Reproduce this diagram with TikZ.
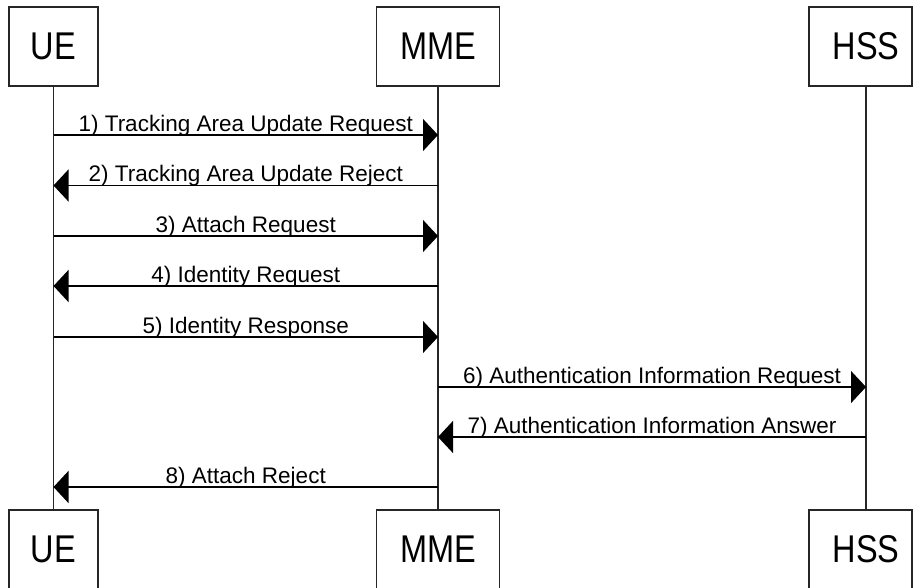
\documentclass[tikz,border=0pt]{standalone}
\usepackage{fontspec}
\setmainfont{Liberation Sans}
\usetikzlibrary{arrows.meta}
\begin{document}
\begin{tikzpicture}[x=1pt,y=-1pt,
  actor/.style={draw=black!85, line width=1.3pt, minimum height=79pt, inner sep=0pt,
    font=\fontsize{32.5}{36}\selectfont},
  title/.style={inner sep=0pt, font=\fontsize{32.5}{36}\selectfont},
  msg/.style={line width=1.2pt, -{Triangle[length=15pt,width=32pt]}},
  lbl/.style={midway, anchor=base, yshift=4pt, inner sep=0pt,
    font=\fontsize{22.5}{26}\selectfont},
  life/.style={line width=1.3pt, draw=black!85}]
\useasboundingbox (0,0) rectangle (916,587);
\clip (0,0) rectangle (916,587);
\fill[white] (0,0) rectangle (916,587);
% actors (top)
\node[actor, minimum width=89pt]  (ue)  at (53.5,46.5) {\scalebox{1}[1.19]{UE}};
\node[actor, minimum width=123pt] (mme) at (438,46.5)  {\scalebox{1}[1.19]{MME}};
\node[actor, minimum width=103pt] (hss) at (860.5,46.5) {};
\node[title] (hsst) at (866,46.5) {\scalebox{1}[1.19]{HSS}};
% actors (bottom)
\node[actor, minimum width=89pt]  (ue2)  at (53.5,549.5) {\scalebox{1}[1.19]{UE}};
\node[actor, minimum width=123pt] (mme2) at (438,549.5)  {\scalebox{1}[1.19]{MME}};
\node[actor, minimum width=103pt] (hss2) at (860.5,549.5) {};
\node[title] (hss2t) at (866,549.5) {\scalebox{1}[1.19]{HSS}};
% message endpoints
\coordinate (u1) at (53.5,135);  \coordinate (m1) at (438,135);
\coordinate (u2) at (53.5,185.5);\coordinate (m2) at (438,185.5);
\coordinate (u3) at (53.5,236);  \coordinate (m3) at (438,236);
\coordinate (u4) at (53.5,286);  \coordinate (m4) at (438,286);
\coordinate (u5) at (53.5,337);  \coordinate (m5) at (438,337);
\coordinate (m6) at (438,387);   \coordinate (h6) at (866,387);
\coordinate (m7) at (438,437);   \coordinate (h7) at (866,437);
\coordinate (u8) at (53.5,487);  \coordinate (m8) at (438,487);
% lifelines
\draw[life] (ue.south) -- (ue2.north);
\draw[life] (mme.south) -- (mme2.north);
\draw[life] (hss.south -| h6) -- (hss2.north -| h6);
% messages
\draw[msg] (u1) -- node[lbl] (l1) {1) Tracking Area Update Request} (m1);
\draw[msg] (m2) -- node[lbl] (l2) {2) Tracking Area Update Reject} (u2);
\draw[msg] (u3) -- node[lbl] (l3) {3) Attach Request} (m3);
\draw[msg] (m4) -- node[lbl] (l4) {4) Identity Request} (u4);
\draw[msg] (u5) -- node[lbl] (l5) {5) Identity Response} (m5);
\draw[msg] (m6) -- node[lbl] (l6) {6) Authentication Information Request} (h6);
\draw[msg] (h7) -- node[lbl] (l7) {7) Authentication Information Answer} (m7);
\draw[msg] (m8) -- node[lbl] (l8) {8) Attach Reject} (u8);
\end{tikzpicture}
\end{document}
